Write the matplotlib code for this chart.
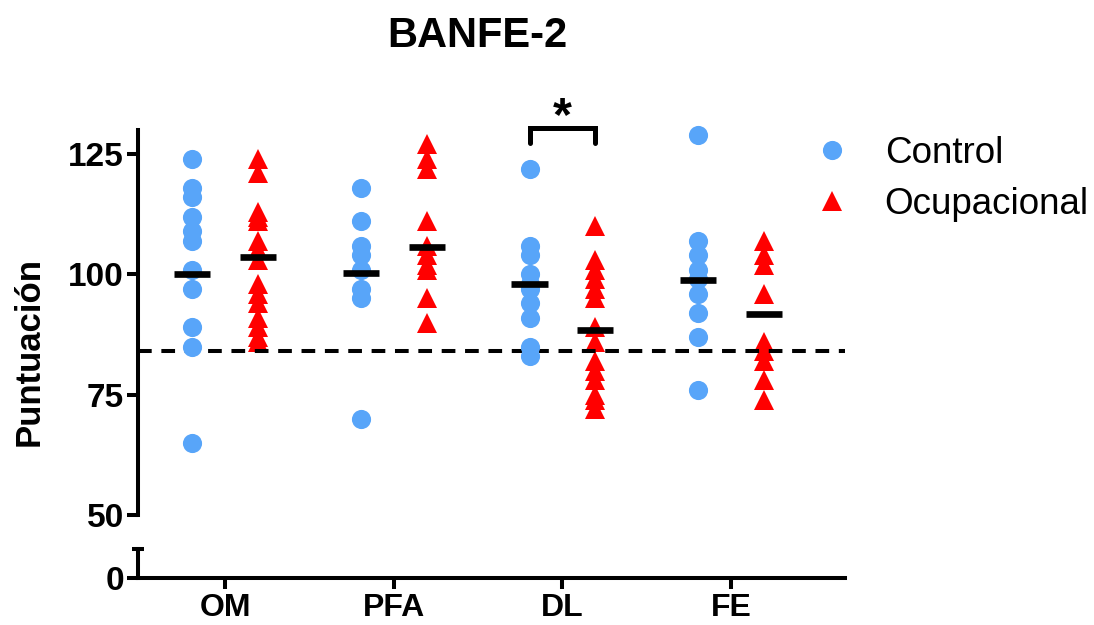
import numpy as np
import matplotlib as mpl
mpl.use('Agg')
import matplotlib.pyplot as plt
from matplotlib.lines import Line2D
from matplotlib.ticker import FixedLocator

plt.rcParams['font.family'] = ['Liberation Sans', 'DejaVu Sans']

groups = ['OM', 'PFA', 'DL', 'FE']

control = [
    [124, 118, 116, 112, 109, 107, 101, 97, 89, 85, 65],
    [118, 111, 106, 104, 101, 97, 95, 70],
    [122, 106, 104, 100, 98, 97, 94, 91, 85, 83],
    [129, 107, 104, 101, 99, 96, 92, 87, 76],
]
ocupacional = [
    [124, 121, 113, 112, 111, 107, 105, 103, 98, 96, 94, 91, 89, 87, 86],
    [127, 124, 122, 111, 106, 104, 102, 101, 95, 90],
    [110, 103, 101, 99, 97, 95, 89, 86, 82, 80, 78, 75, 74, 72],
    [107, 104, 102, 96, 86, 84, 82, 78, 74],
]
control_mean = [100.0, 100.2, 98.0, 98.8]
ocupacional_mean = [103.7, 105.7, 88.5, 91.7]
cutoff = 84

BLUE = '#58A5F9'
RED = '#FF0000'
W, H = 1094, 625
off = 0.195
lw_axis = 2.9


def fx(px):
    return px / W


def fy(py):
    return 1 - py / H


fig = plt.figure(figsize=(W / 100, H / 100), dpi=100)
left, right = 138, 845
ax = fig.add_axes([fx(left), fy(515), fx(right - left), (515 - 130) / H])
ax_lo = fig.add_axes([fx(left), fy(578), fx(right - left), (578 - 549) / H])

for i in range(len(groups)):
    x = i + 1
    ax.plot(np.full(len(ocupacional[i]), x + off), ocupacional[i], '^',
            color=RED, ms=13.8, mew=0, zorder=2, clip_on=False)
    ax.plot(np.full(len(control[i]), x - off), control[i], 'o',
            color=BLUE, ms=13.8, mew=0, zorder=3, clip_on=False)
    ax.plot([x - off - 0.107, x - off + 0.107], [control_mean[i]] * 2,
            color='black', lw=4.8, solid_capstyle='butt', zorder=4)
    ax.plot([x + off - 0.107, x + off + 0.107], [ocupacional_mean[i]] * 2,
            color='black', lw=4.8, solid_capstyle='butt', zorder=4)

ax.axhline(cutoff, color='black', lw=lw_axis, dashes=(3.4, 2.4), zorder=2.5)

# significance bracket over DL
bx = [3 - off, 3 - off, 3 + off, 3 + off]
by = [127.4, 130.5, 130.5, 127.4]
ax.plot(bx, by, color='black', lw=3.6, solid_capstyle='round',
        solid_joinstyle='miter', clip_on=False)
ax.text(3, 130.0, '*', ha='center', va='baseline', fontsize=35,
        fontweight='bold', clip_on=False)

xlim = (0.484, 4.675)
ax.set_xlim(*xlim)
ax.set_ylim(50, 130)
ax.set_yticks([50, 75, 100, 125])
ax.yaxis.set_minor_locator(FixedLocator([50]))
for s in ['top', 'right', 'bottom']:
    ax.spines[s].set_visible(False)
ax.spines['left'].set_linewidth(lw_axis)
ax.tick_params(axis='x', which='both', bottom=False, labelbottom=False)
ax.tick_params(axis='y', which='major', length=8, width=lw_axis,
               labelsize=24, pad=2)
ax.tick_params(axis='y', which='minor', direction='in', length=4,
               width=lw_axis)

ax_lo.set_xlim(*xlim)
ax_lo.set_ylim(0, 6)
ax_lo.set_yticks([0])
ax_lo.yaxis.set_minor_locator(FixedLocator([6]))
ax_lo.set_xticks(range(1, len(groups) + 1))
ax_lo.set_xticklabels(groups)
for s in ['top', 'right']:
    ax_lo.spines[s].set_visible(False)
ax_lo.spines['left'].set_linewidth(lw_axis)
ax_lo.spines['bottom'].set_linewidth(lw_axis)
ax_lo.tick_params(axis='y', which='major', length=8, width=lw_axis,
                  labelsize=24, pad=2)
ax_lo.tick_params(axis='y', which='minor', direction='inout', length=8,
                  width=lw_axis)
ax_lo.tick_params(axis='x', length=8, width=lw_axis, labelsize=23, pad=3)

for a in (ax, ax_lo):
    for lab in a.get_xticklabels() + a.get_yticklabels():
        lab.set_fontweight('bold')

fig.text(fx(477), fy(47), 'BANFE-2', ha='center', va='baseline',
         fontsize=30, fontweight='bold')
fig.text(fx(29), fy(352), 'Puntuación', rotation=90, ha='center',
         va='center', fontsize=25, fontweight='bold')

handles = [
    Line2D([], [], ls='none', marker='o', color=BLUE, ms=13.8, mew=0),
    Line2D([], [], ls='none', marker='^', color=RED, ms=13.8, mew=0),
]
fig.legend(handles, ['Control', 'Ocupacional'], loc='upper left',
           bbox_to_anchor=(fx(817), fy(136)), frameon=False,
           fontsize=26.5, handlelength=0.8, handletextpad=1.04,
           labelspacing=0.44, borderpad=0, borderaxespad=0)

fig.savefig('out.png', dpi=100)
